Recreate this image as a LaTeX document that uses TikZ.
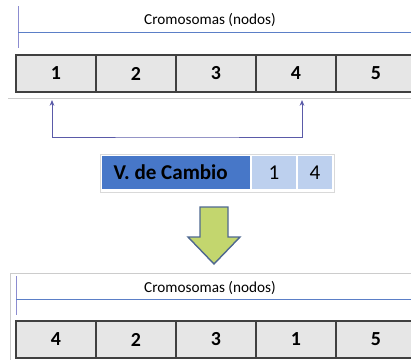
\documentclass[tikz,border=0pt]{standalone}
\usepackage{fontspec}
\setmainfont{Carlito}
\usetikzlibrary{arrows.meta}

\definecolor{lineblue}{HTML}{5B7FC7}
\definecolor{lilac}{HTML}{8C8CD0}
\definecolor{cellgray}{HTML}{E6E6E6}
\definecolor{darkblue}{HTML}{4777C8}
\definecolor{paleblue}{HTML}{BDD0EE}
\definecolor{arrowgreen}{HTML}{C3D66E}
\definecolor{arrowedge}{HTML}{4F6890}
\definecolor{linkblue}{HTML}{5A5AA8}

\tikzset{
    cell/.style={draw=black!75, fill=cellgray, line width=1pt, minimum width=2.4cm, minimum height=1.11cm, inner sep=0pt, font=\fontsize{17}{17}\selectfont\bfseries},
    titletext/.style={font=\fontsize{13}{13}\selectfont},
    swapbox/.style={minimum height=0.99cm, inner sep=0pt, font=\fontsize{18}{18}\selectfont}
}

\begin{document}
\begin{tikzpicture}[x=0.03cm, y=-0.03cm]
    \clip (0,0) rectangle (411,360);
    % cromosoma original
    \draw[lilac, line width=0.8pt] (18,6) -- (18,48);
    \draw[lineblue, line width=0.8pt] (18,32) -- (411,32);
    \node[titletext] (tit1) at (210,20) {Cromosomas (nodos)};
    \node[cell] (t1) at (56,73.5) {1};
    \node[cell] (t2) at (136,73.5) {2};
    \node[cell] (t3) at (216,73.5) {3};
    \node[cell] (t4) at (296,73.5) {4};
    \node[cell] (t5) at (376,73.5) {5};
    \draw[black!20, line width=0.8pt] (8,98.5) -- (411,98.5);
    % intercambio
    \coordinate (p1) at (52,100);
    \coordinate (p4) at (302,100);
    \coordinate (pm) at (177,137);
    \draw[linkblue, line width=0.8pt, {Stealth[length=5pt,width=4pt]}-{Stealth[length=5pt,width=4pt]}] (p1) |- (pm) -| (p4);
    % vector de cambio
    \draw[black!15, line width=0.8pt] (100,154) rectangle (334,192);
    \node[swapbox, fill=darkblue, minimum width=4.44cm, font=\fontsize{18}{18}\selectfont\bfseries] (vc) at (176,172.5) {V. de Cambio\hspace*{9pt}};
    \node[swapbox, fill=paleblue, minimum width=1.32cm] (v1) at (274,172.5) {1};
    \node[swapbox, fill=paleblue, minimum width=1.02cm] (v4) at (315,172.5) {4};
    % flecha
    \draw[arrowedge, fill=arrowgreen, line width=1.2pt] (200,207) -- (228,207) -- (228,237) -- (240,237) -- (214,264) -- (188,237) -- (200,237) -- cycle;
    % cromosoma nuevo
    \draw[black!20, line width=0.8pt] (10,360) -- (10,273) -- (411,273);
    \draw[lilac, line width=0.8pt] (16,276) -- (16,315);
    \draw[lineblue, line width=0.8pt] (16,299) -- (411,299);
    \node[titletext] (tit2) at (210,288) {Cromosomas (nodos)};
    \node[cell] (b1) at (56,339.5) {4};
    \node[cell] (b2) at (136,339.5) {2};
    \node[cell] (b3) at (216,339.5) {3};
    \node[cell] (b4) at (296,339.5) {1};
    \node[cell] (b5) at (376,339.5) {5};
\end{tikzpicture}
\end{document}
